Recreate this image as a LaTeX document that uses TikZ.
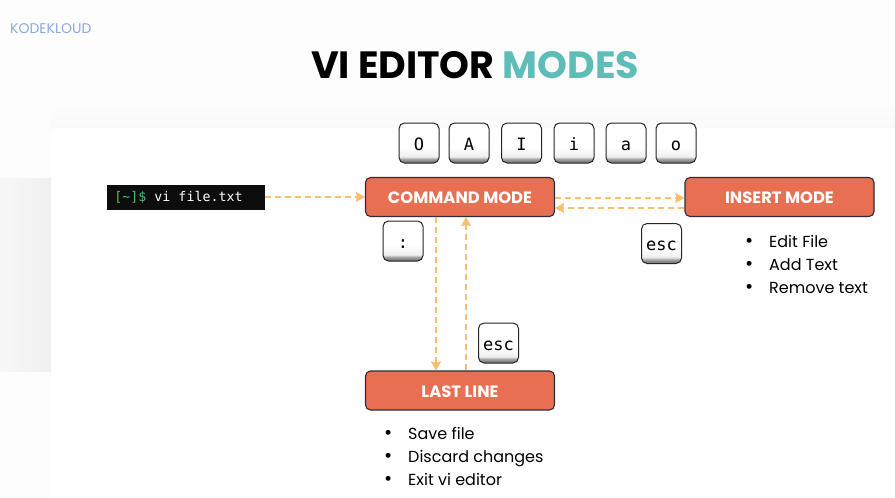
\documentclass[tikz,border=0pt]{standalone}
\usepackage{fontspec}
\setmainfont{Poppins}
\setmonofont{DejaVu Sans Mono}
\usetikzlibrary{arrows.meta}
\definecolor{modered}{HTML}{E86F52}
\definecolor{modeline}{HTML}{2B2D3A}
\definecolor{flow}{HTML}{F9BE6E}
\definecolor{teal}{HTML}{5FBDB8}
\definecolor{logoblue}{HTML}{8AA9DC}
\definecolor{promptgreen}{HTML}{4CC26E}
\pgfdeclareverticalshading{keyface}{100bp}{
    color(0bp)=(black!60); color(25bp)=(black!60); color(30bp)=(black!35); color(33bp)=(black!6);
    color(45bp)=(white); color(100bp)=(white)}
\tikzset{
    mode/.style={rectangle,rounded corners=5pt,draw=modeline,line width=1.1pt,fill=modered,
        minimum width=189pt,minimum height=39pt,text=white,text height=13.5pt,text depth=0pt,
        font=\fontsize{16.4}{18}\selectfont\bfseries},
    keycap/.style={rectangle,rounded corners=5.5pt,draw=black!85,line width=1pt,shading=keyface,
        minimum width=40pt,minimum height=40pt,inner sep=0pt,text height=14pt,text depth=0pt,
        font=\ttfamily\fontsize{17}{18}\selectfont},
    notes/.style={align=left,anchor=north west,inner sep=0pt,font=\fontsize{16}{23}\selectfont}
}
\newcommand{\noteitem}[1]{\makebox[20pt][l]{\hspace{-4pt}{\fontsize{20}{23}\selectfont\textbullet}}#1}

\begin{document}
\begin{tikzpicture}[x=1pt,y=-1pt]
    \useasboundingbox (0,0) rectangle (895,498);
    % backdrop
    \fill[black!0.7] (0,0) rectangle (895,498);
    \shade[top color=black!0.7,bottom color=black!2,draw=none] (51,100) rectangle (895,128);
    \shade[left color=black!3,right color=black!6,draw=none] (0,178) rectangle (51,371);
    \fill[white,rounded corners=10pt] (51,510) -- (51,128) -- (910,128) -- (910,510) -- cycle;
    \draw
    (10,29) node[anchor=west,inner sep=0pt,text=logoblue,font=\fontsize{14}{16}\selectfont](logo){KODEKLOUD}
    (475,65) node[inner sep=0pt,font=\fontsize{38}{44}\selectfont\bfseries](title){VI EDITOR \textcolor{teal}{MODES}}
    (185.5,197) node[fill=black!95,minimum width=158pt,minimum height=25pt,inner sep=0pt,text=white,
        font=\ttfamily\fontsize{13.3}{16}\selectfont](term){\textcolor{promptgreen}{[\textasciitilde]\$} vi file.txt\hspace{14pt}\mbox{}}
    (460,197) node[mode](cmd){COMMAND MODE}
    (779.5,197) node[mode](ins){INSERT MODE}
    (460,390.5) node[mode](last){LAST LINE}
    (419,143) node[keycap](keyO){O}
    (469,143) node[keycap](keyA){A}
    (521.5,143) node[keycap](keyI){I}
    (574,143) node[keycap](keyi){i}
    (626,143) node[keycap](keya){a}
    (676,143) node[keycap](keyo){o}
    (403,241) node[keycap](keycolon){:}
    (661.5,243.5) node[keycap](keyesc){esc}
    (498.5,343) node[keycap](keyback){esc}
    (749,235) node[notes](insnotes){\noteitem{Edit File}\\\noteitem{Add Text}\\\noteitem{Remove text}}
    (388,427) node[notes](lastnotes){\noteitem{Save file}\\\noteitem{Discard changes}\\\noteitem{Exit vi editor}}
    ;
    \begin{scope}[
        every edge/.style={-{Stealth[length=9pt,width=10pt,inset=1pt]},draw=flow,line width=1.2pt,dash pattern=on 6pt off 4pt}]
        \path (term) edge (cmd);
        \path ([yshift=-1pt]cmd.east) edge ([yshift=-1pt]ins.west);
        \path ([yshift=-11pt]ins.west) edge ([yshift=-11pt]cmd.east);
        \path ([xshift=-24pt]cmd.south) edge ([xshift=-24pt]last.north);
        \path ([xshift=6pt]last.north) edge ([xshift=6pt]cmd.south);
    \end{scope}
\end{tikzpicture}
\end{document}
